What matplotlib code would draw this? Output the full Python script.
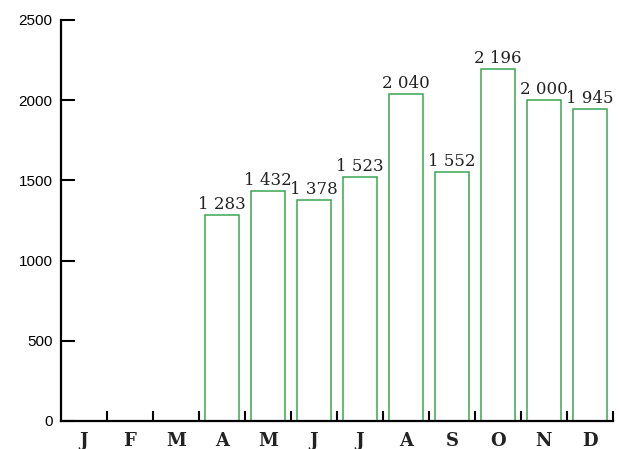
import matplotlib
matplotlib.use("Agg")
import matplotlib.pyplot as plt
import numpy as np

months = ["J", "F", "M", "A", "M", "J", "J", "A", "S", "O", "N", "D"]
values = [None, None, None, 1283, 1432, 1378, 1523, 2040, 1552, 2196, 2000, 1945]
y_ticks = [0, 500, 1000, 1500, 2000, 2500]

green = "#3aa552"

fig = plt.figure(figsize=(6.2, 4.49), dpi=100)
ax = fig.add_axes([61 / 620, 1 - 421 / 449, 552 / 620, 401 / 449])

centers = np.arange(len(months)) + 0.5
for x, v in zip(centers, values):
    if v is None:
        continue
    ax.bar(x, v, width=0.74, facecolor="white", edgecolor=green, linewidth=1.1)
    label = f"{v:,}".replace(",", " ")
    ax.annotate(label, (x, v), xytext=(0, 1.5), textcoords="offset points",
                ha="center", va="bottom", fontsize=12, family="DejaVu Serif",
                color="#222222")

ax.set_xlim(0, 12)
ax.set_ylim(0, 2500)

for s in ["top", "right"]:
    ax.spines[s].set_visible(False)
ax.spines["left"].set_linewidth(1.6)
ax.spines["bottom"].set_linewidth(1.6)

ax.set_yticks(y_ticks)
ax.set_yticklabels([str(t) for t in y_ticks], family="Liberation Sans", fontsize=11)
ax.tick_params(axis="y", direction="in", length=10, width=1.5, pad=6)

ax.set_xticks(centers)
ax.set_xticklabels(months, family="DejaVu Serif", fontsize=13, fontweight="bold",
                   color="#222222")
ax.tick_params(axis="x", which="major", length=0, pad=8)
ax.set_xticks(np.arange(1, 13), minor=True)
ax.tick_params(axis="x", which="minor", direction="in", length=7, width=1.5)

fig.savefig("out.png", dpi=100)
